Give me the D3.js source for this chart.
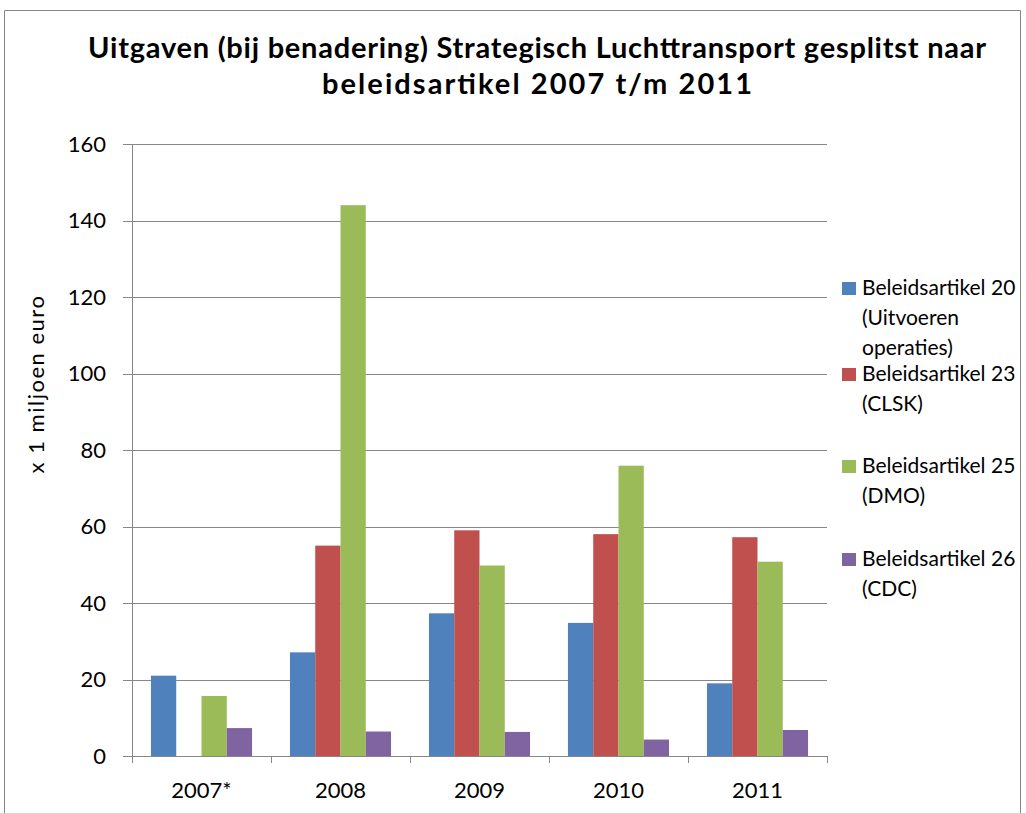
<!DOCTYPE html>
<html lang="nl">
<head>
<meta charset="UTF-8">
<title>Strategisch Luchttransport</title>
<script src="https://cdn.jsdelivr.net/npm/d3@7"></script>
<style>
  body { margin: 0; background: #fff; }
  text { font-family: Lato, "Noto Sans", sans-serif; fill: #000; }
</style>
</head>
<body>
<svg width="1026" height="813" id="mainsvg" style="display:block"></svg>
<script>
const years = ["2007*", "2008", "2009", "2010", "2011"];
const series = ["Beleidsartikel 20", "Beleidsartikel 23", "Beleidsartikel 25", "Beleidsartikel 26"];
const legendLines = [
  ["Beleidsartikel 20", "(Uitvoeren", "operaties)"],
  ["Beleidsartikel 23", "(CLSK)"],
  ["Beleidsartikel 25", "(DMO)"],
  ["Beleidsartikel 26", "(CDC)"]
];
const art20 = [21.0, 27.1, 37.3, 34.8, 19.0];
const art23 = [0, 55.0, 59.0, 58.0, 57.2];
const art25 = [15.7, 144.0, 49.8, 75.9, 50.8];
const art26 = [7.3, 6.4, 6.3, 4.3, 6.8];
const yTicks = [0, 20, 40, 60, 80, 100, 120, 140, 160];
const colors = ["#4F81BD", "#C0504D", "#9BBB59", "#8064A2"];
const titleLines = ["Uitgaven (bij benadering) Strategisch Luchttransport gesplitst naar", "beleidsartikel 2007 t/m 2011"];

const values = [art20, art23, art25, art26];

const svg = d3.select("#mainsvg");
const margin = {top: 144, right: 199, bottom: 57, left: 132};
const width = +svg.attr("width");
const height = +svg.attr("height");
const innerWidth = width - margin.left - margin.right;
const innerHeight = height - margin.top - margin.bottom;

// chart border (bottom edge runs past the picture)
svg.append("path")
  .attr("d", "M4.5,813 V10.5 H1020.5 V813")
  .attr("fill", "none").attr("stroke", "#868686").attr("stroke-width", 1);

// title
const titleWidths = [898, 430];
svg.append("text")
  .attr("text-anchor", "middle")
  .attr("font-size", 29).attr("font-weight", "bold")
  .selectAll("tspan")
  .data(titleLines)
  .join("tspan")
  .attr("x", 537)
  .attr("y", (d, i) => 58 + i * 36)
  .attr("textLength", (d, i) => titleWidths[i])
  .attr("lengthAdjust", "spacing")
  .text(d => d);

const g = svg.append("g").attr("transform", `translate(${margin.left},${margin.top})`);

const x0 = d3.scaleBand().domain(years).range([0, innerWidth]);
const x1 = d3.scaleBand().domain(series).range([0, x0.bandwidth()]).paddingOuter(0.75);
const y = d3.scaleLinear().domain([0, 160]).range([innerHeight, 0]);

// gridlines + y ticks
g.selectAll("line.grid").data(yTicks).join("line")
  .attr("class", "grid")
  .attr("x1", -9).attr("x2", innerWidth)
  .attr("y1", d => Math.round(y(d)) + 0.5).attr("y2", d => Math.round(y(d)) + 0.5)
  .attr("stroke", "#878787").attr("stroke-width", 1);

g.selectAll("text.ytick").data(yTicks).join("text")
  .attr("class", "ytick")
  .attr("x", -26).attr("y", d => y(d))
  .attr("dy", "0.36em")
  .attr("text-anchor", "end")
  .attr("font-size", 22)
  .text(d => d);

// bars
const groups = g.selectAll("g.year").data(years).join("g")
  .attr("class", "year")
  .attr("transform", d => `translate(${x0(d)},0)`);

groups.selectAll("rect")
  .data((d, i) => series.map((s, j) => ({s, v: values[j][i], j})))
  .join("rect")
  .attr("x", d => x1(d.s))
  .attr("width", x1.bandwidth())
  .attr("y", d => y(d.v))
  .attr("height", d => innerHeight - y(d.v))
  .attr("fill", d => colors[d.j]);

// axis lines
g.append("line")
  .attr("x1", 0.5).attr("x2", 0.5).attr("y1", 0).attr("y2", innerHeight)
  .attr("stroke", "#878787");
g.append("line")
  .attr("x1", 0).attr("x2", innerWidth)
  .attr("y1", Math.round(innerHeight) + 0.5).attr("y2", Math.round(innerHeight) + 0.5)
  .attr("stroke", "#878787");

const xTickPos = years.map(d => x0(d)).concat([innerWidth]);
g.selectAll("line.xtick").data(xTickPos).join("line")
  .attr("class", "xtick")
  .attr("x1", d => Math.round(d) + 0.5).attr("x2", d => Math.round(d) + 0.5)
  .attr("y1", innerHeight).attr("y2", innerHeight + 7)
  .attr("stroke", "#878787");

g.selectAll("text.xlab").data(years).join("text")
  .attr("class", "xlab")
  .attr("x", d => x0(d) + x0.bandwidth() / 2)
  .attr("y", innerHeight + 42)
  .attr("text-anchor", "middle")
  .attr("font-size", 22)
  .text(d => d);

// y axis title
svg.append("text")
  .attr("transform", "translate(44,384) rotate(-90)")
  .attr("text-anchor", "middle")
  .attr("font-size", 22)
  .attr("letter-spacing", 1.5)
  .text("x 1 miljoen euro");

// legend
const legendTop = [282, 368, 460, 553];
const legend = svg.append("g");
legendLines.forEach((lines, i) => {
  legend.append("rect")
    .attr("x", 842).attr("y", legendTop[i])
    .attr("width", 14).attr("height", 13)
    .attr("fill", colors[i]);
  legend.append("text")
    .attr("font-size", 21)
    .selectAll("tspan").data(lines).join("tspan")
    .attr("x", 862)
    .attr("y", (d, k) => legendTop[i] + 13 + k * 30)
    .text(d => d);
});
</script>
</body>
</html>
